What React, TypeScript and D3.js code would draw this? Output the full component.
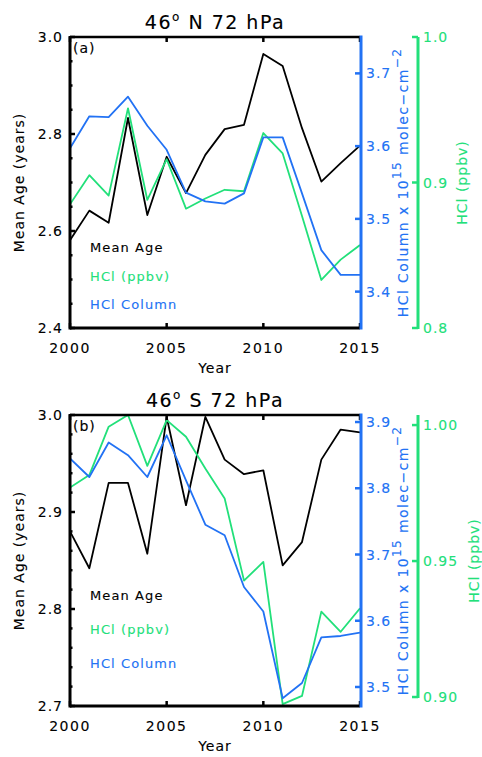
import React from "react";
import * as d3 from "d3";

// ---- data ----
const years = [2000, 2001, 2002, 2003, 2004, 2005, 2006, 2007, 2008, 2009, 2010, 2011, 2012, 2013, 2014, 2015];

// 46 N, 72 hPa
const ageN = [2.581, 2.642, 2.617, 2.833, 2.633, 2.753, 2.678, 2.757, 2.81, 2.819, 2.965, 2.94, 2.812, 2.702, 2.74, 2.776];
const ppbvN = [0.885, 0.905, 0.891, 0.951, 0.888, 0.916, 0.882, 0.889, 0.895, 0.894, 0.934, 0.92, 0.877, 0.833, 0.847, 0.857];
const columnN = [3.597, 3.641, 3.64, 3.668, 3.628, 3.595, 3.536, 3.524, 3.521, 3.535, 3.612, 3.612, 3.535, 3.457, 3.423, 3.423];

// 46 S, 72 hPa
const ageS = [2.88, 2.842, 2.93, 2.93, 2.857, 2.998, 2.907, 2.998, 2.954, 2.939, 2.943, 2.845, 2.869, 2.954, 2.985, 2.982];
const ppbvS = [0.977, 0.9816, 0.9994, 1.0037, 0.985, 1.0018, 0.9957, 0.984, 0.973, 0.9428, 0.9497, 0.8974, 0.9004, 0.9314, 0.924, 0.9326];
const columnS = [3.845, 3.817, 3.869, 3.85, 3.817, 3.88, 3.812, 3.745, 3.729, 3.651, 3.614, 3.483, 3.506, 3.575, 3.577, 3.582];

const yearTicks = [2000, 2005, 2010, 2015];
const ageTicksN = [2.4, 2.6, 2.8, 3.0];
const columnTicksN = [3.4, 3.5, 3.6, 3.7];
const ppbvTicksN = [0.8, 0.9, 1.0];
const ageTicksS = [2.7, 2.8, 2.9, 3.0];
const columnTicksS = [3.5, 3.6, 3.7, 3.8, 3.9];
const ppbvTicksS = [0.9, 0.95, 1.0];

const legendLabels = ["Mean Age", "HCl (ppbv)", "HCl Column"];

// ---- look ----
const W = 482;
const H = 757;
const FONT = "'DejaVu Sans', sans-serif";
const BLACK = "#000000";
const GREEN = "#22e07a";
const BLUE = "#2272f4";
const X0 = 70;
const X1 = 360;
const BLUE_X = 361;
const GREEN_X = 418;

type PanelCfg = {
  title: string;
  hemi: string;
  tag: string;
  top: number;
  bottom: number;
  age: number[];
  ppbv: number[];
  column: number[];
  ageDomain: [number, number];
  ageTicks: number[];
  ageMinor: number;
  columnDomain: [number, number];
  columnTicks: number[];
  ppbvDomain: [number, number];
  ppbvTicks: number[];
  ppbvFmt: string;
  ppbvAxisBottom: number;
  legendY: number;
  legendGap: number;
  greenTitleX: number;
};

const panels: PanelCfg[] = [
  {
    title: "46",
    hemi: " N 72 hPa",
    tag: "(a)",
    top: 37,
    bottom: 328,
    age: ageN,
    ppbv: ppbvN,
    column: columnN,
    ageDomain: [2.4, 3.0],
    ageTicks: ageTicksN,
    ageMinor: 0.05,
    columnDomain: [3.35, 3.75],
    columnTicks: columnTicksN,
    ppbvDomain: [0.8, 1.0],
    ppbvTicks: ppbvTicksN,
    ppbvFmt: ".1f",
    ppbvAxisBottom: 0.8,
    legendY: 252,
    legendGap: 28.5,
    greenTitleX: 467,
  },
  {
    title: "46",
    hemi: " S 72 hPa",
    tag: "(b)",
    top: 415,
    bottom: 706,
    age: ageS,
    ppbv: ppbvS,
    column: columnS,
    ageDomain: [2.7, 3.0],
    ageTicks: ageTicksS,
    ageMinor: 0.02,
    columnDomain: [3.4713, 3.9106],
    columnTicks: columnTicksS,
    ppbvDomain: [0.8967, 1.0037],
    ppbvTicks: ppbvTicksS,
    ppbvFmt: ".2f",
    ppbvAxisBottom: 0.9,
    legendY: 600,
    legendGap: 34,
    greenTitleX: 479,
  },
];

const txt = (color: string) => ({
  fill: color,
  stroke: color,
  strokeWidth: 0.12,
  fontFamily: FONT,
});

function Panel({ cfg, idx }: { cfg: PanelCfg; idx: number }) {
  const x = d3.scaleLinear().domain([2000, 2015]).range([X0, X1]);
  const yAge = d3.scaleLinear().domain(cfg.ageDomain).range([cfg.bottom, cfg.top]);
  const yCol = d3.scaleLinear().domain(cfg.columnDomain).range([cfg.bottom, cfg.top]);
  const yPpbv = d3.scaleLinear().domain(cfg.ppbvDomain).range([cfg.bottom, cfg.top]);

  const mk = (ys: d3.ScaleLinear<number, number>, vals: number[]) =>
    d3
      .line<number>()
      .x((_, i) => x(years[i]))
      .y((v) => ys(v))(vals) || "";

  // minor ticks on the age axis
  const minor = d3
    .range(cfg.ageDomain[0], cfg.ageDomain[1] + 1e-9, cfg.ageMinor)
    .filter((v) => !cfg.ageTicks.some((t) => Math.abs(t - v) < 1e-6));

  const mid = (cfg.top + cfg.bottom) / 2;
  const clipId = `clip${idx}`;
  const ppbvTop = yPpbv(cfg.ppbvDomain[1]);

  return (
    <g>
      <defs>
        <clipPath id={clipId}>
          <rect x={X0} y={cfg.top} width={X1 - X0} height={cfg.bottom - cfg.top} />
        </clipPath>
      </defs>

      {/* title */}
      <text x={(X0 + X1) / 2} y={cfg.top - 8} textAnchor="middle" fontSize={19} letterSpacing={1.5} {...txt(BLACK)}>
        {cfg.title}
        <tspan dy={-8} fontSize={12}>o</tspan>
        <tspan dy={8}>{cfg.hemi}</tspan>
      </text>

      {/* data lines */}
      <g clipPath={`url(#${clipId})`} fill="none" strokeWidth={1.8} strokeLinejoin="round">
        <path d={mk(yAge, cfg.age)} stroke={BLACK} />
        <path d={mk(yPpbv, cfg.ppbv)} stroke={GREEN} />
        <path d={mk(yCol, cfg.column)} stroke={BLUE} />
      </g>

      {/* frame */}
      <line x1={X0} x2={X1} y1={cfg.top} y2={cfg.top} stroke={BLACK} strokeWidth={2.5} />
      <line x1={X0} x2={X1} y1={cfg.bottom} y2={cfg.bottom} stroke={BLACK} strokeWidth={3} />
      <line x1={X0} x2={X0} y1={cfg.top - 1} y2={cfg.bottom + 1.5} stroke={BLACK} strokeWidth={3} />

      {/* x ticks */}
      {yearTicks.map((t) => (
        <g key={t}>
          <line x1={x(t)} x2={x(t)} y1={cfg.top} y2={cfg.top + 5} stroke={BLACK} strokeWidth={2.5} />
          <line x1={x(t)} x2={x(t)} y1={cfg.bottom} y2={cfg.bottom - 5} stroke={BLACK} strokeWidth={2.5} />
          <text x={x(t)} y={cfg.bottom + 25} textAnchor="middle" fontSize={14} letterSpacing={1.5} {...txt(BLACK)}>
            {t}
          </text>
        </g>
      ))}
      <text x={(X0 + X1) / 2} y={cfg.bottom + 45} textAnchor="middle" fontSize={14} letterSpacing={1} {...txt(BLACK)}>
        Year
      </text>

      {/* left axis */}
      {cfg.ageTicks.map((t) => (
        <g key={t}>
          <line x1={X0} x2={X0 + 5} y1={yAge(t)} y2={yAge(t)} stroke={BLACK} strokeWidth={2.5} />
          <text x={63} y={yAge(t) + 5} textAnchor="end" fontSize={14} letterSpacing={1} {...txt(BLACK)}>
            {t.toFixed(1)}
          </text>
        </g>
      ))}
      {minor.map((t) => (
        <line key={t} x1={X0} x2={X0 + 2.5} y1={yAge(t)} y2={yAge(t)} stroke={BLACK} strokeWidth={2.5} />
      ))}
      <text
        transform={`translate(24,${mid}) rotate(-90)`}
        textAnchor="middle"
        fontSize={14}
        letterSpacing={1}
        {...txt(BLACK)}
      >
        Mean Age (years)
      </text>
      <text x={73} y={cfg.top + 16} fontSize={14} letterSpacing={1} {...txt(BLACK)}>
        {cfg.tag}
      </text>

      {/* blue column axis */}
      <line x1={BLUE_X} x2={BLUE_X} y1={cfg.top - 1.5} y2={cfg.bottom + 1.5} stroke={BLUE} strokeWidth={3} />
      {cfg.columnTicks.map((t) => (
        <g key={t}>
          <line x1={BLUE_X} x2={BLUE_X - 6} y1={yCol(t)} y2={yCol(t)} stroke={BLUE} strokeWidth={2.5} />
          <text x={366} y={yCol(t) + 5} fontSize={14} letterSpacing={1} {...txt(BLUE)}>
            {t.toFixed(1)}
          </text>
        </g>
      ))}
      <text
        transform={`translate(408,${mid}) rotate(-90)`}
        textAnchor="middle"
        fontSize={14}
        letterSpacing={1.4}
        {...txt(BLUE)}
      >
        HCl Column x 10
        <tspan dy={-7} fontSize={12}>15</tspan>
        <tspan dy={7}> molec−cm</tspan>
        <tspan dy={-7} fontSize={12}>−2</tspan>
      </text>

      {/* green ppbv axis */}
      <line
        x1={GREEN_X}
        x2={GREEN_X}
        y1={ppbvTop}
        y2={yPpbv(cfg.ppbvAxisBottom) + 1}
        stroke={GREEN}
        strokeWidth={3}
      />
      {cfg.ppbvTicks.map((t) => (
        <g key={t}>
          <line x1={GREEN_X} x2={GREEN_X - 6} y1={yPpbv(t)} y2={yPpbv(t)} stroke={GREEN} strokeWidth={2.5} />
          <text x={423} y={yPpbv(t) + 5} fontSize={14} letterSpacing={1} {...txt(GREEN)}>
            {d3.format(cfg.ppbvFmt)(t)}
          </text>
        </g>
      ))}
      <text
        transform={`translate(${cfg.greenTitleX},${mid}) rotate(-90)`}
        textAnchor="middle"
        fontSize={14}
        letterSpacing={1}
        {...txt(GREEN)}
      >
        HCl (ppbv)
      </text>

      {/* legend */}
      {legendLabels.map((l, i) => (
        <text
          key={l}
          x={90}
          y={cfg.legendY + i * cfg.legendGap}
          fontSize={13}
          letterSpacing={1.1}
          {...txt([BLACK, GREEN, BLUE][i])}
        >
          {l}
        </text>
      ))}
    </g>
  );
}

export default function App() {
  return (
    <svg
      width={W}
      height={H}
      viewBox={`0 0 ${W} ${H}`}
      style={{ position: "absolute", left: 0, top: 0, background: "#fff" }}
    >
      <rect width={W} height={H} fill="#fff" />
      {panels.map((p, i) => (
        <Panel key={i} cfg={p} idx={i} />
      ))}
    </svg>
  );
}
